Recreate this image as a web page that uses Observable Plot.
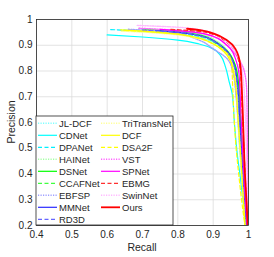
<!DOCTYPE html>
<html><head><meta charset="utf-8">
<script src="https://cdn.jsdelivr.net/npm/d3@7"></script>
<script src="https://cdn.jsdelivr.net/npm/@observablehq/plot@0.6"></script>
<style>body{margin:0;background:#fff}</style>
</head><body><div id="chart"></div>
<script>
const methods = ["JL-DCF","CDNet","DPANet","HAINet","DSNet","CCAFNet","EBFSP","MMNet","RD3D",
  "TriTransNet","DCF","DSA2F","VST","SPNet","EBMG","SwinNet","Ours"];
const colors = ["#80ffff","#00ffff","#00f0ff","#a6ffa6","#00ff00","#40ff40","#9f9fff","#2a2aff","#6666ff",
  "#ffff99","#ffff00","#ffff00","#ff66ff","#ff00ff","#ff3030","#ffb8ff","#ff0000"];
const styles = ["dot","solid","dash","dot","solid","dash","dot","solid","dash",
  "dot","solid","dash","dot","solid","dash","dot","solid"];

// Recall / precision values
const JLDCF_r = [0.64,0.70,0.80,0.85,0.90,0.93,0.95,0.960,0.968,0.975,0.985,0.992];
const JLDCF_p = [0.957,0.953,0.943,0.933,0.912,0.885,0.84,0.78,0.65,0.50,0.32,0.20];
const CDNet_r = [0.60,0.70,0.80,0.86,0.90,0.92,0.935,0.945,0.954,0.960,0.968,0.977,0.992];
const CDNet_p = [0.940,0.932,0.920,0.905,0.886,0.862,0.815,0.76,0.71,0.60,0.48,0.385,0.20];
const DPANet_r = [0.61,0.70,0.80,0.86,0.90,0.93,0.95,0.962,0.970,0.978,0.988,0.995];
const DPANet_p = [0.961,0.955,0.945,0.935,0.915,0.89,0.85,0.78,0.65,0.50,0.32,0.20];
const HAINet_r = [0.69,0.80,0.87,0.91,0.94,0.96,0.972,0.978,0.985,0.992,0.997];
const HAINet_p = [0.965,0.955,0.940,0.915,0.88,0.83,0.75,0.60,0.45,0.30,0.20];
const DSNet_r = [0.70,0.80,0.87,0.90,0.93,0.95,0.963,0.972,0.978,0.985,0.993];
const DSNet_p = [0.962,0.952,0.937,0.918,0.89,0.86,0.821,0.75,0.60,0.42,0.20];
const CCAFNet_r = [0.72,0.80,0.87,0.91,0.94,0.958,0.968,0.975,0.983,0.992];
const CCAFNet_p = [0.958,0.950,0.932,0.905,0.87,0.82,0.74,0.60,0.42,0.20];
const EBFSP_r = [0.66,0.75,0.80,0.86,0.90,0.94,0.955,0.965,0.973,0.982,0.990];
const EBFSP_p = [0.962,0.955,0.945,0.92,0.886,0.847,0.80,0.70,0.55,0.38,0.20];
const MMNet_r = [0.737,0.80,0.87,0.91,0.94,0.958,0.968,0.975,0.982,0.990,0.995];
const MMNet_p = [0.957,0.950,0.935,0.91,0.875,0.83,0.76,0.62,0.45,0.28,0.20];
const RD3D_r = [0.70,0.80,0.87,0.91,0.94,0.957,0.967,0.974,0.982,0.992];
const RD3D_p = [0.958,0.951,0.934,0.908,0.872,0.83,0.75,0.60,0.43,0.20];
const TriTransNet_r = [0.64,0.70,0.80,0.86,0.90,0.93,0.95,0.962,0.970,0.978,0.990];
const TriTransNet_p = [0.955,0.951,0.940,0.925,0.905,0.875,0.84,0.77,0.62,0.45,0.20];
const DCF_r = [0.638,0.70,0.80,0.86,0.90,0.93,0.95,0.962,0.970,0.978,0.990];
const DCF_p = [0.960,0.955,0.943,0.928,0.906,0.876,0.835,0.76,0.62,0.47,0.20];
const DSA2F_r = [0.65,0.75,0.85,0.90,0.93,0.945,0.952,0.955,0.958,0.965,0.973,0.985,0.990];
const DSA2F_p = [0.958,0.950,0.930,0.905,0.88,0.86,0.83,0.75,0.65,0.50,0.39,0.25,0.20];
const VST_r = [0.69,0.80,0.87,0.91,0.94,0.96,0.975,0.988,0.995,0.997,0.998,0.999];
const VST_p = [0.966,0.958,0.945,0.928,0.90,0.87,0.84,0.80,0.72,0.50,0.30,0.20];
const SPNet_r = [0.75,0.85,0.90,0.93,0.949,0.965,0.973,0.978,0.983,0.990,0.996];
const SPNet_p = [0.962,0.950,0.935,0.91,0.886,0.84,0.79,0.65,0.50,0.32,0.20];
const EBMG_r = [0.78,0.85,0.90,0.93,0.955,0.970,0.978,0.982,0.987,0.993,0.998];
const EBMG_p = [0.962,0.955,0.942,0.92,0.89,0.85,0.78,0.65,0.50,0.33,0.20];
const SwinNet_r = [0.685,0.80,0.87,0.91,0.94,0.96,0.975,0.985,0.990,0.995,0.998];
const SwinNet_p = [0.977,0.970,0.958,0.94,0.912,0.88,0.84,0.77,0.65,0.45,0.20];
const Ours_r = [0.826,0.87,0.902,0.94,0.963,0.977,0.982,0.986,0.990,0.995,0.998];
const Ours_p = [0.964,0.957,0.945,0.918,0.886,0.821,0.70,0.55,0.40,0.28,0.20];

const xTicks = [0.4,0.5,0.6,0.7,0.8,0.9,1];
const yTicks = [0.2,0.3,0.4,0.5,0.6,0.7,0.8,0.9,1];

const seriesR = [JLDCF_r,CDNet_r,DPANet_r,HAINet_r,DSNet_r,CCAFNet_r,EBFSP_r,MMNet_r,RD3D_r,
  TriTransNet_r,DCF_r,DSA2F_r,VST_r,SPNet_r,EBMG_r,SwinNet_r,Ours_r];
const seriesP = [JLDCF_p,CDNet_p,DPANet_p,HAINet_p,DSNet_p,CCAFNet_p,EBFSP_p,MMNet_p,RD3D_p,
  TriTransNet_p,DCF_p,DSA2F_p,VST_p,SPNet_p,EBMG_p,SwinNet_p,Ours_p];

const dashOf = s => s === "dot" ? "1.2,1.3" : s === "dash" ? "4,2.5" : null;
const widthOf = (m, s) => m === "Ours" ? 1.8 : (s === "dot" ? 1.4 : 1.2);

const lineMarks = methods.map((m, i) => {
  const rows = seriesR[i].map((r, j) => ({r, p: seriesP[i][j]}));
  return Plot.line(rows, {x: "r", y: "p", stroke: colors[i], strokeWidth: widthOf(m, styles[i]),
    strokeDasharray: dashOf(styles[i]), curve: "monotone-y", clip: true});
});

const FONT = "'Liberation Sans', Arial, sans-serif";
const fmt = d => d === 1 ? "1" : d.toFixed(1);
const plot = Plot.plot({
  width: 274, height: 257,
  marginLeft: 36, marginRight: 26, marginTop: 19, marginBottom: 32,
  style: {fontSize: "10px", fontFamily: FONT, color: "#262626", background: "#fff"},
  x: {domain: [0.4, 1], ticks: xTicks, tickFormat: fmt, label: null},
  y: {domain: [0.2, 1], ticks: yTicks, tickFormat: fmt, label: null},
  marks: [
    Plot.gridX(xTicks, {stroke: "#dcdcdc", strokeOpacity: 1, strokeWidth: 0.8}),
    Plot.gridY(yTicks, {stroke: "#dcdcdc", strokeOpacity: 1, strokeWidth: 0.8}),
    ...lineMarks,
    Plot.axisX(xTicks, {tickSize: 0, tickPadding: 5, tickFormat: fmt, fontSize: 10}),
    Plot.axisY(yTicks, {tickSize: 0, tickPadding: 4, tickFormat: fmt, fontSize: 10}),
    Plot.frame({stroke: "#262626", strokeWidth: 0.8})
  ]
});

const svg = d3.select(plot);
const xs = plot.scale("x"), ys = plot.scale("y");
const pxLeft = xs.apply(0.4), pxBottom = ys.apply(0.2), pxTop = ys.apply(1), pxRight = xs.apply(1);

// axis titles
svg.append("text").attr("x", (pxLeft + pxRight) / 2).attr("y", 251).attr("text-anchor", "middle")
  .attr("font-size", 10.5).attr("font-family", FONT).attr("fill", "#262626").text("Recall");
svg.append("text").attr("transform", `translate(15,${(pxTop + pxBottom) / 2}) rotate(-90)`)
  .attr("text-anchor", "middle").attr("font-size", 10.5).attr("font-family", FONT)
  .attr("fill", "#262626").text("Precision");

// legend
const lg = svg.append("g").attr("font-family", FONT);
const lgW = 137, lgH = pxBottom - 116;
lg.append("rect").attr("x", pxLeft).attr("y", pxBottom - lgH).attr("width", lgW).attr("height", lgH)
  .attr("fill", "#fff").attr("stroke", "#262626").attr("stroke-width", 0.8);
methods.forEach((m, i) => {
  const col = i < 9 ? 0 : 1, row = i < 9 ? i : i - 9;
  const y0 = pxBottom - lgH + 7.3 + row * 12;
  const x0 = pxLeft + (col ? 65 : 2);
  lg.append("line").attr("x1", x0).attr("x2", x0 + 19).attr("y1", y0).attr("y2", y0)
    .attr("stroke", colors[i]).attr("stroke-width", widthOf(m, styles[i]))
    .attr("stroke-dasharray", dashOf(styles[i]));
  lg.append("text").attr("x", x0 + 21).attr("y", y0).attr("dy", "0.35em")
    .attr("text-anchor", "start").attr("font-size", 9.5).attr("fill", "#262626").text(m);
});

document.getElementById("chart").appendChild(plot);
</script></body></html>
